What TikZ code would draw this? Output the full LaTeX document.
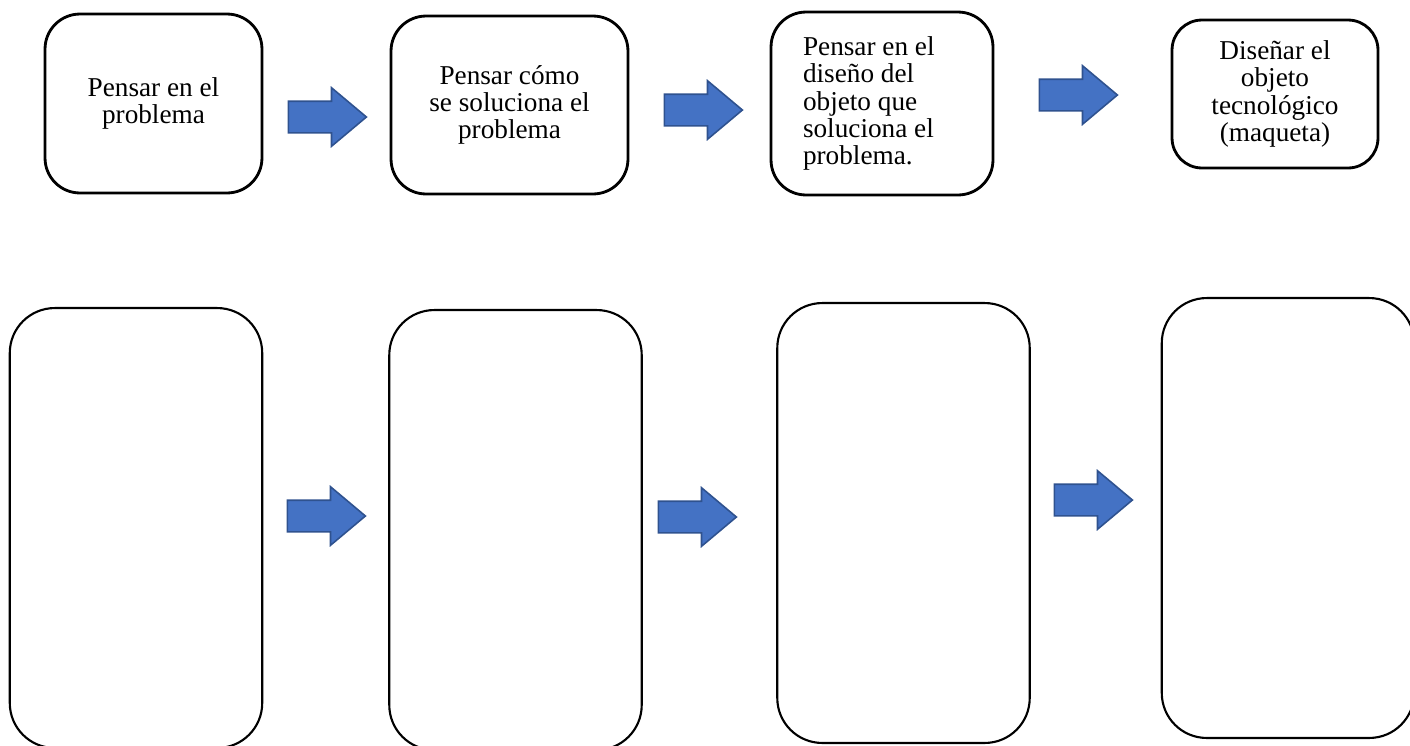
\documentclass[tikz,border=0pt]{standalone}
\usepackage{fontspec}
\setmainfont{Liberation Serif}
\usetikzlibrary{shapes.arrows}
\definecolor{azul}{HTML}{4472C4}
\definecolor{azulborde}{HTML}{2F528F}
\begin{document}
\begin{tikzpicture}[x=0.02cm,y=-0.02cm,
    paso/.style={draw, line width=1.6pt, rounded corners=0.7cm, align=center, inner sep=0pt, font=\fontsize{15.5}{15.5}\selectfont},
    vacio/.style={draw, line width=1.2pt, rounded corners=0.9cm, minimum width=5.05cm, minimum height=8.8cm},
    flecha/.style={single arrow, draw=azulborde, fill=azul, line width=0.9pt, inner sep=0pt, inner ysep=0.3cm,
        minimum height=1.56cm, minimum width=1.14cm, single arrow head extend=0.27cm, single arrow tip angle=80}]
    \useasboundingbox (0,0) rectangle (1410,745);
    \clip (0,0) rectangle (1410,745);
            % fila de arriba
            \node[paso, minimum width=4.34cm, minimum height=3.58cm] (A) at (153.5,103.5){Pensar en el\\problema};
            \node[paso, minimum width=4.74cm, minimum height=3.56cm] (B) at (509.5,105){Pensar cómo\\se soluciona el\\problema};
            \node[paso, align=flush left, text width=3.16cm, inner xsep=0.64cm, minimum height=3.66cm] (C) at (882,103.5){Pensar en el\\diseño del\\objeto que\\soluciona el\\problema.};
            \node[paso, rounded corners=0.6cm, minimum width=4.12cm, minimum height=2.96cm] (D) at (1275,94){Diseñar el\\objeto\\tecnológico\\(maqueta)};
            \node[flecha] (AB) at (318,117){};
            \node[flecha] (BC) at (694,110){};
            \node[flecha] (CD) at (1069,95){};
            % fila de abajo
            \node[vacio] (A1) at (136,528){};
            \node[vacio] (B1) at (515.5,530){};
            \node[vacio] (C1) at (903.5,523){};
            \node[vacio] (D1) at (1288,518){};
            \node[flecha] (AB1) at (317,516){};
            \node[flecha] (BC1) at (688,517){};
            \node[flecha] (CD1) at (1084,500){};
        \end{tikzpicture}
\end{document}
